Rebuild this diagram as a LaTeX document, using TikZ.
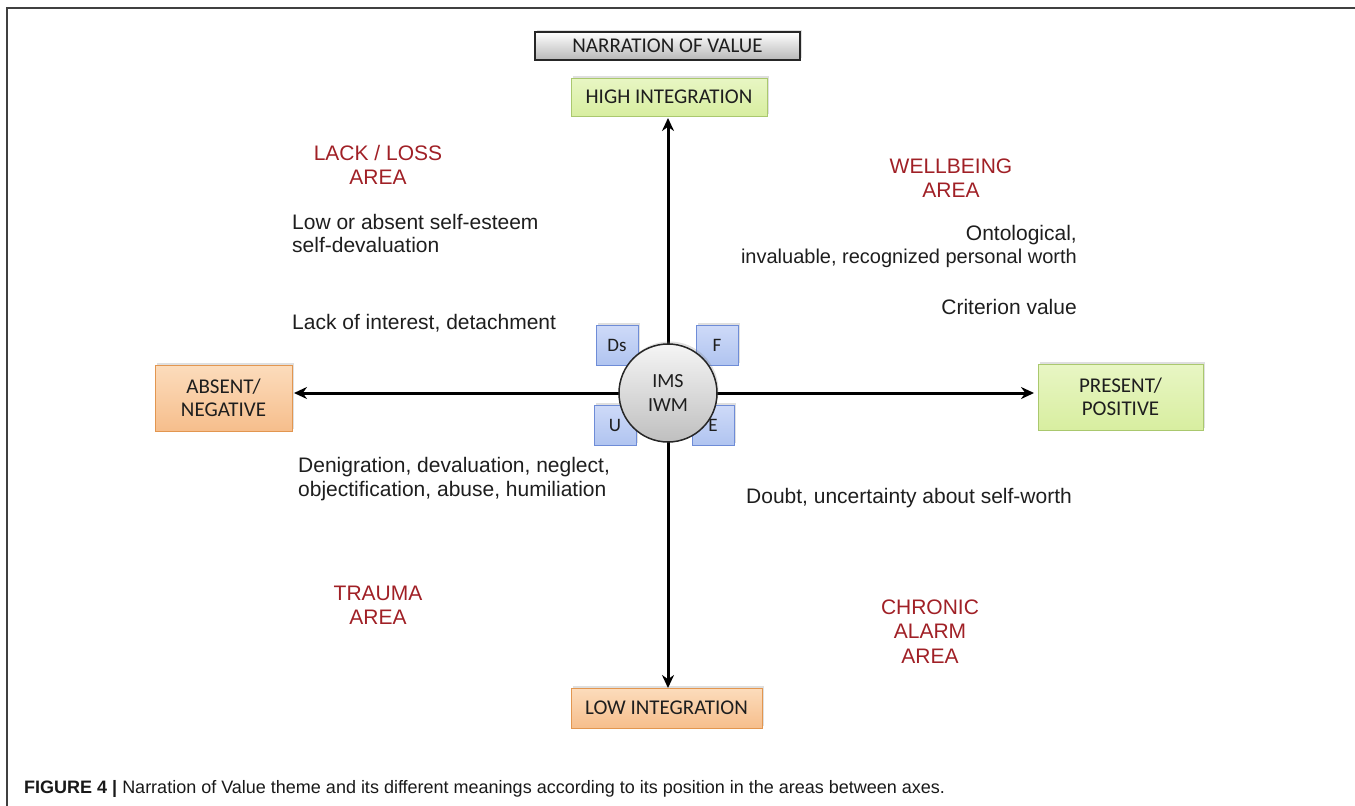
\documentclass[tikz,border=0pt]{standalone}
\usepackage{fontspec}
\setmainfont{Liberation Sans}
\newfontfamily\boxfont{Carlito}
\usetikzlibrary{arrows.meta,shadows}
\definecolor{areared}{RGB}{160,32,38}
\definecolor{txt}{RGB}{30,30,30}
\definecolor{grnfill}{RGB}{232,246,196}
\definecolor{grnfill2}{RGB}{216,238,160}
\definecolor{grnedge}{RGB}{170,200,110}
\definecolor{orfill}{RGB}{252,220,188}
\definecolor{orfill2}{RGB}{246,190,140}
\definecolor{oredge}{RGB}{226,150,80}
\definecolor{blfill}{RGB}{206,218,248}
\definecolor{blfill2}{RGB}{176,196,240}
\definecolor{bledge}{RGB}{110,140,215}
\tikzset{
  shad/.style={drop shadow={opacity=0.25,shadow xshift=1.5pt,shadow yshift=2.5pt}},
  boxlbl/.style={font=\boxfont\fontsize{21}{23}\selectfont,text=txt,align=center,inner sep=0pt},
  greenbox/.style={boxlbl,shad,draw=grnedge,line width=1pt,top color=grnfill,bottom color=grnfill2},
  orangebox/.style={boxlbl,shad,draw=oredge,line width=1pt,top color=orfill,bottom color=orfill2},
  graybox/.style={boxlbl,shad,draw=black!85,line width=1.5pt,top color=white,bottom color=black!28},
  bluebox/.style={font=\boxfont\fontsize{19}{20}\selectfont,text=txt,shad,draw=bledge,line width=1pt,top color=blfill,bottom color=blfill2,minimum width=42pt,minimum height=40pt,inner sep=0pt},
  body/.style={font=\fontsize{21}{23}\selectfont,text=txt,inner sep=0pt},
  area/.style={font=\fontsize{21}{23}\selectfont,text=areared,inner sep=0pt,anchor=base},
  axis/.style={line width=3pt,black,{Stealth[length=13pt,width=12pt]}-{Stealth[length=13pt,width=12pt]}},
}
\begin{document}
\begin{tikzpicture}[x=1pt,y=-1pt]
\useasboundingbox (0,0) rectangle (1355,806);
% frame
\draw[line width=1.5pt,black!75] (7,806) -- (7,8) -- (1355,8);

% boxes
\node[graybox,minimum width=265pt,minimum height=28pt] (narr) at (667.5,46) {NARRATION OF VALUE};
\node[greenbox,minimum width=196pt,minimum height=38pt] (high) at (669,97) {HIGH INTEGRATION};
\node[orangebox,minimum width=191pt,minimum height=40pt] (low) at (666.5,708) {LOW INTEGRATION};
\node[orangebox,minimum width=137pt,minimum height=66pt] (absent) at (223.5,398) {ABSENT/\\NEGATIVE};
\node[greenbox,minimum width=165pt,minimum height=66pt] (present) at (1120.5,397) {PRESENT/\\POSITIVE};

% small boxes
\node[bluebox] (ds) at (617,345) {Ds};
\node[bluebox] (f) at (717,345) {F};
\node[bluebox] (u) at (615,425) {U};
\node[bluebox] (e) at (713,425) {E};

% axes
\coordinate (c) at (668,393);
\coordinate (axl) at (294,393);
\coordinate (axr) at (1034,393);
\coordinate (axt) at (668,118);
\coordinate (axb) at (668,688);
\draw[axis] (axl) -- (axr);
\draw[axis] (axt) -- (axb);

% centre circle
\node[circle,draw=black!85,line width=1.5pt,minimum size=98pt,inner sep=0pt,
      top color=black!4,bottom color=black!25,shad,
      font=\boxfont\fontsize{20}{24}\selectfont,text=txt,align=center] (ims) at (c) {IMS\\IWM};

% area labels
\node[area] (ll1) at (378,160) {LACK / LOSS};
\node[area] (ll2) at (378,184) {AREA};
\node[area] (wb1) at (951,173) {WELLBEING};
\node[area] (wb2) at (951,197) {AREA};
\node[area] (tr1) at (378,600) {TRAUMA};
\node[area] (tr2) at (378,624) {AREA};
\node[area] (ca1) at (930,614) {CHRONIC};
\node[area] (ca2) at (930,638) {ALARM};
\node[area] (ca3) at (930,663) {AREA};

% body texts
\node[body,anchor=base west] (t1) at (292,229) {Low or absent self-esteem};
\node[body,anchor=base west] (t2) at (292,252) {self-devaluation};
\node[body,anchor=base west] (t3) at (292,329) {Lack of interest, detachment};
\node[body,anchor=base west] (t4) at (298,472) {Denigration, devaluation, neglect,};
\node[body,anchor=base west] (t5) at (298,496) {objectification, abuse, humiliation};
\node[body,anchor=base east] (t6) at (1077,240) {Ontological,};
\node[body,anchor=base east,font=\fontsize{20}{23}\selectfont] (t7) at (1077,263) {invaluable, recognized personal worth};
\node[body,anchor=base east] (t8) at (1077,314) {Criterion value};
\node[body,anchor=base west] (t9) at (746,503) {Doubt, uncertainty about self-worth};

% caption
\node[anchor=base west,inner sep=0pt,font=\fontsize{18}{20}\selectfont,text=black!90] (cap) at (24,793)
  {\textbf{FIGURE 4 |} Narration of Value theme and its different meanings according to its position in the areas between axes.};
\end{tikzpicture}
\end{document}
